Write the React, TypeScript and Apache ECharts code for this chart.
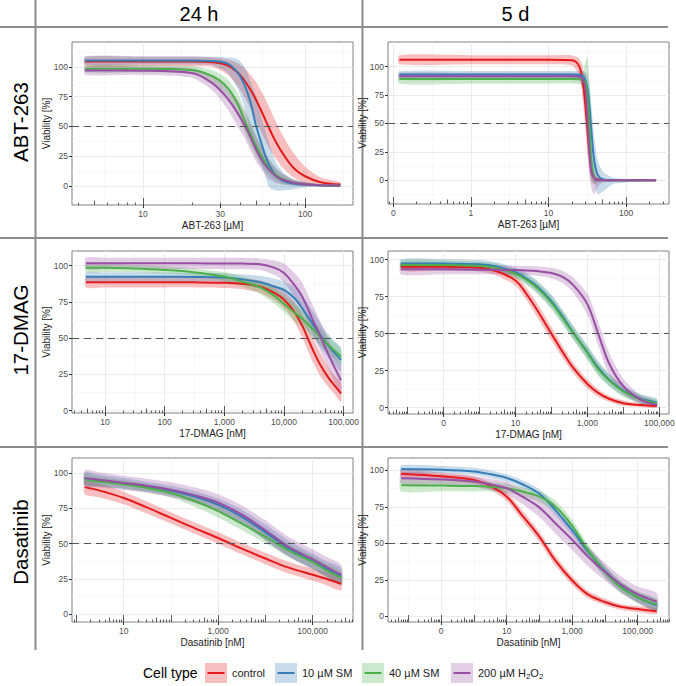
import React, { useEffect, useRef } from "react";
import * as echarts from "echarts";

const FONT = "'Liberation Sans', Arial, Helvetica, sans-serif";

const cellTypes = ["control", "10 µM SM", "40 µM SM", "200 µM H2O2"];
const lineColors = ["#E41A1C", "#377EB8", "#4DAF4A", "#984EA3"];
const bandColors = [
  "rgba(228,26,28,0.28)",
  "rgba(55,126,184,0.28)",
  "rgba(77,175,74,0.28)",
  "rgba(152,78,163,0.28)",
];
const timepoints = ["24 h", "5 d"];
const drugs = ["ABT-263", "17-DMAG", "Dasatinib"];
const yTicks = [0, 25, 50, 75, 100];

// ---------- ABT-263, 24 h (µM) ----------
const abt24Conc = [4.4, 10, 20, 27, 33, 38, 42, 46, 50, 55, 60, 66, 73, 85, 100, 125, 165];
const abt24Control = [104.5, 104.5, 104.5, 104, 101.5, 96, 89, 81, 72, 60, 48.5, 37, 27, 15, 8, 3, 1];
const abt24ControlHi = [108.5, 108.5, 108.5, 108, 106.5, 103.5, 99.6, 93.5, 87, 77, 66.5, 54, 42, 27.5, 16, 7, 3];
const abt24ControlLo = [100.5, 100.5, 100.5, 100, 94, 84.6, 75.5, 65, 54.3, 42, 32, 23, 15, 7, 2, 0, -1];
const abt24Sm10 = [105.5, 105.5, 105.5, 105, 103, 96, 86, 70.5, 50, 31.5, 17.5, 9, 4.2, 1.8, 0.8, 0.3, 0.1];
const abt24Sm10Hi = [109, 109, 109, 108.5, 108, 107, 101, 88, 75, 53, 36, 20, 11.6, 5, 3, 1.5, 0.8];
const abt24Sm10Lo = [102, 102, 102, 101.5, 95.5, 83, 67.5, 45.5, 29, 14, -1, -4, -4, -3, -1.5, -0.5, -0.3];
const abt24Sm40 = [98.5, 98.5, 97.5, 92, 83, 70, 56, 44, 33, 22.7, 14.5, 9, 5.5, 2.8, 1.3, 0.5, 0.1];
const abt24Sm40Hi = [101.5, 101.5, 100.8, 97, 90, 79, 66, 54, 42, 31, 22, 14.5, 9.5, 5, 2.8, 1.2, 0.5];
const abt24Sm40Lo = [95.5, 95.5, 94, 87, 76, 61, 46, 34, 24, 15, 9, 4, 1.5, 0.3, -0.3, -0.3, -0.3];
const abt24H2o2 = [97, 96.8, 95, 86, 74, 62, 52, 41, 30, 20, 13.5, 8, 5, 2.5, 1.2, 0.5, 0.2];
const abt24H2o2Hi = [100.5, 100.3, 99, 93, 83, 73, 63, 52, 41, 30, 22, 15, 10, 5.5, 3, 1.5, 0.8];
const abt24H2o2Lo = [93.5, 93.3, 91, 80, 65, 51, 41, 30, 20, 12, 6, 2.5, 1, 0, -0.5, -0.5, -0.3];
const abt24TickValues = [10, 30, 100];
const abt24TickLabels = ["10", "30", "100"];

// ---------- ABT-263, 5 d (µM) ----------
const abt5Conc = [0.12, 1, 10, 20, 25, 28, 30, 32, 34, 36, 39, 43, 50, 70, 244];
const abt5Control = [106, 106, 106, 105.5, 100, 84, 65, 42, 22, 8, 2, 0.8, 0.3, 0, 0];
const abt5ControlHi = [110, 110, 110, 110, 107, 98, 84, 64, 42, 22, 8, 3, 1.5, 0.5, 0.3];
const abt5ControlLo = [102, 102, 102, 101, 92, 68, 45, 22, 6, 0, -3, -2, -1, -0.5, -0.3];
const abt5Sm10 = [93, 93, 93, 93, 92.5, 91, 88, 80, 64, 41, 17, 5, 1, 0, 0];
const abt5Sm10Hi = [96, 96, 96, 96, 96, 96, 95, 93, 84, 64, 38, 18, 8, 2, 0.5];
const abt5Sm10Lo = [90, 90, 90, 90, 89, 86, 80, 65, 42, 18, -2, -12, -10, -3, -0.5];
const abt5Sm40 = [89, 89, 89, 89, 88.8, 88, 86, 74, 45, 15, 2, 0.3, 0, 0, 0];
const abt5Sm40Hi = [93, 93, 93, 93, 93, 95, 105, 108, 80, 40, 10, 2, 0.5, 0.2, 0.2];
const abt5Sm40Lo = [85, 85, 85, 85, 84.5, 80, 66, 40, 12, -2, -3, -1, -0.3, -0.2, -0.2];
const abt5H2o2 = [91.5, 91.5, 91.5, 91.5, 91, 88, 80, 52, 22, 7, 1.5, 0.3, 0, 0, 0];
const abt5H2o2Hi = [94.5, 94.5, 94.5, 94.5, 94.5, 94, 93, 78, 48, 22, 6, 2, 0.5, 0.2, 0.2];
const abt5H2o2Lo = [88.5, 88.5, 88.5, 88.5, 87.5, 80, 62, 28, 2, -8, -12, -6, -2, -0.5, -0.2];
const abt5TickValues = [0.1, 1, 10, 100];
const abt5TickLabels = ["0", "1", "10", "100"];

// ---------- 17-DMAG, 24 h (nM) ----------
const dmag24Conc = [4.8, 10, 30, 100, 300, 1000, 2000, 4000, 7000, 10000, 15000, 20000, 30000, 40000, 55000, 70000, 90000];
const dmag24Control = [88.6, 88.6, 88.6, 88.6, 88.5, 88.2, 87.5, 85.5, 81, 76.5, 68, 59, 42.5, 32, 23, 17.5, 12];
const dmag24ControlHi = [92, 92, 92, 92, 92, 91.8, 91.3, 89.8, 86, 82, 75, 67, 51, 40.5, 30, 24, 19];
const dmag24ControlLo = [85, 85, 85, 85, 85, 84.6, 83.7, 81.2, 76, 71, 61, 51, 34, 24, 16.5, 11.5, 6];
const dmag24Sm10 = [92.4, 92.4, 92.4, 92.3, 92.2, 91.8, 90.5, 88.5, 85.5, 83.3, 77.5, 70.8, 60, 52.5, 45, 40, 35];
const dmag24Sm10Hi = [95.4, 95.4, 95.4, 95.3, 95.2, 94.8, 94, 93, 91, 89, 85, 79.5, 69, 61, 53, 48, 43];
const dmag24Sm10Lo = [89.4, 89.4, 89.4, 89.3, 89.2, 88.8, 87, 84, 80, 77.5, 70, 62, 51, 44, 37, 32, 27];
const dmag24Sm40 = [98.6, 98.5, 98, 97, 95.5, 92.5, 89, 85, 79, 73.5, 67.5, 63.5, 56.5, 51.2, 45.5, 41.5, 37.4];
const dmag24Sm40Hi = [101.5, 101.3, 100.6, 99.5, 98, 95.5, 92.5, 89, 84, 79, 73.5, 69.5, 62, 57, 51, 47, 43];
const dmag24Sm40Lo = [95.7, 95.7, 95.4, 94.5, 93, 89.5, 85.5, 80.5, 73.5, 68, 61.5, 57.5, 51, 45.5, 40, 36, 31.8];
const dmag24H2o2 = [101.6, 101.6, 101.6, 101.6, 101.6, 101.5, 101.4, 101, 98.5, 95, 86.5, 79, 63, 52, 39, 30, 21];
const dmag24H2o2Hi = [105.5, 105.5, 105.5, 105.5, 105.5, 105.4, 105.3, 105, 103.5, 101.5, 95, 88.5, 73, 62, 49, 40, 31];
const dmag24H2o2Lo = [97.7, 97.7, 97.7, 97.7, 97.7, 97.6, 97.5, 97, 93.5, 88.5, 78, 69.5, 53, 42, 29, 20, 11];
const dmag24TickValues = [10, 100, 1000, 10000, 100000];
const dmag24TickLabels = ["10", "100", "1,000", "10,000", "100,000"];

// ---------- 17-DMAG, 5 d (nM) ----------
const dmag5Conc = [0.0066, 0.1, 1, 3, 10, 20, 40, 100, 200, 400, 1000, 2000, 4000, 10000, 30000, 85000];
const dmag5Control = [95.3, 95.2, 94.6, 92.2, 86, 77, 66, 50, 38, 27, 16, 10, 6, 3, 1.8, 1.2];
const dmag5ControlHi = [98, 97.8, 97.2, 95, 89.5, 81, 70.5, 54.5, 42, 30.5, 19, 12.5, 8, 4.8, 3.2, 2.6];
const dmag5ControlLo = [92.6, 92.6, 92, 89.4, 82.5, 73, 61.5, 45.5, 34, 23.5, 13, 7.5, 4, 1.2, 0.4, -0.2];
const dmag5Sm10 = [97.5, 97.4, 97, 95.5, 91.5, 87.5, 82, 72, 62, 51, 37.5, 27, 19, 11.5, 6, 3.5];
const dmag5Sm10Hi = [100.5, 100.4, 99.8, 98.3, 94.5, 91, 86, 76.5, 66.5, 55.5, 42, 31.5, 23, 15, 9, 6];
const dmag5Sm10Lo = [94.5, 94.4, 94.2, 92.7, 88.5, 84, 78, 67.5, 57.5, 46.5, 33, 22.5, 15, 8, 3, 1];
const dmag5Sm40 = [96.5, 96.4, 95.8, 94.5, 90.5, 86.5, 81, 71, 61, 50.5, 37, 26, 18.5, 11, 5.5, 3];
const dmag5Sm40Hi = [99.5, 99.3, 98.6, 97.3, 93.5, 90, 85, 75.5, 65.5, 55, 41.5, 30.5, 22.5, 14.5, 8.2, 5.3];
const dmag5Sm40Lo = [93.5, 93.5, 93, 91.7, 87.5, 83, 77, 66.5, 56.5, 46, 32.5, 21.5, 14.5, 7.5, 2.8, 0.7];
const dmag5H2o2 = [93.5, 93.5, 93.3, 93.2, 93, 92.8, 92.3, 91, 88.5, 83, 70, 50, 30, 14.5, 5.5, 2];
const dmag5H2o2Hi = [97, 96.8, 96.5, 96.3, 96, 95.8, 95.5, 94.5, 92.5, 88, 77, 58, 37.5, 19.5, 8.5, 3.8];
const dmag5H2o2Lo = [90, 90.2, 90.1, 90.1, 90, 89.8, 89.1, 87.5, 84.5, 78, 63, 42, 22.5, 9.5, 2.5, 0.2];
const dmag5TickValues = [0.1, 10, 1000, 100000];
const dmag5TickLabels = ["0", "10", "1,000", "100,000"];

// ---------- Dasatinib, 24 h (nM) ----------
const das24Conc = [1.5, 3, 10, 30, 100, 300, 1000, 3000, 10000, 30000, 100000, 200000, 400000];
const das24Control = [90, 87.7, 82.3, 75.8, 68.2, 61.3, 54, 46.8, 39.5, 33.2, 28, 25, 21.7];
const das24ControlHi = [95, 92.5, 86.8, 80, 72.2, 65.3, 58, 50.8, 43.5, 37.3, 32.3, 29.5, 26.5];
const das24ControlLo = [85, 82.8, 77.8, 71.5, 64.2, 57.3, 50, 42.8, 35.5, 29, 23.7, 20.5, 17];
const das24Sm10 = [96, 94.8, 92.7, 90.5, 87.5, 83.5, 77.5, 69.5, 58, 47, 37.5, 32, 27];
const das24Sm10Hi = [100.5, 99, 96.5, 94, 91, 87.5, 82, 74.5, 63.5, 52.5, 43, 37.5, 33];
const das24Sm10Lo = [91.5, 90.6, 88.9, 87, 84, 79.5, 73, 64.5, 52.5, 41.5, 32, 26.5, 21];
const das24Sm40 = [95.5, 94, 92, 89.5, 85.8, 80.5, 73, 64.5, 55, 45.5, 37, 31, 26];
const das24Sm40Hi = [99.5, 97.5, 95, 92.5, 89, 84.5, 77.5, 69, 59.5, 50, 41.5, 35.5, 31];
const das24Sm40Lo = [91.5, 90.5, 89, 86.5, 82.6, 76.5, 68.5, 60, 50.5, 41, 32.5, 26.5, 21];
const das24H2o2 = [96.5, 95.2, 93, 91, 88.2, 84.5, 79, 71, 59.5, 48, 39, 33.5, 28];
const das24H2o2Hi = [102, 100.5, 98, 96, 93.5, 90, 85, 77.5, 66.5, 55, 46, 40.5, 35];
const das24H2o2Lo = [91, 89.9, 88, 86, 83, 79, 73, 64.5, 52.5, 41, 32, 26.5, 21];
const das24TickValues = [10, 1000, 100000];
const das24TickLabels = ["10", "1,000", "100,000"];

// ---------- Dasatinib, 5 d (nM) ----------
const das5Conc = [0.006, 0.1, 1, 3, 10, 30, 100, 300, 1000, 3000, 10000, 30000, 100000, 380000];
const das5Control = [97.7, 96, 93.5, 89.5, 82, 69, 54.5, 38.5, 24.5, 15, 9.8, 6.5, 5, 3.4];
const das5ControlHi = [100.5, 98.5, 96, 92, 85, 72.5, 58, 42, 27.5, 17.5, 12, 8.5, 7, 5.5];
const das5ControlLo = [95, 93.5, 91, 87, 79, 65.5, 51, 35, 21.5, 12.5, 7.6, 4.5, 3, 1.5];
const das5Sm10 = [101, 100.5, 99.3, 97.5, 94.8, 90.5, 84, 73, 59, 44.5, 31, 20.5, 13, 7.5];
const das5Sm10Hi = [103.5, 103, 101.8, 100, 97.3, 93.3, 87, 76.5, 62.5, 48, 34.5, 24, 16.5, 11];
const das5Sm10Lo = [98.5, 98, 96.8, 95, 92.3, 87.7, 81, 69.5, 55.5, 41, 27.5, 17, 9.5, 4];
const das5Sm40 = [89.8, 89.6, 89.3, 88.8, 87.8, 85.5, 82, 75.5, 62, 45.5, 30.5, 20, 13, 8];
const das5Sm40Hi = [94, 93.5, 93, 92, 90.8, 88.5, 85.5, 79.5, 66, 49.5, 34.5, 24, 17, 12];
const das5Sm40Lo = [85.6, 85.7, 85.6, 85.6, 84.8, 82.5, 78.5, 71.5, 58, 41.5, 26.5, 16, 9, 4];
const das5H2o2 = [94.7, 93.8, 92.4, 90.5, 87.8, 82, 74.5, 64, 52.5, 41, 30.5, 22, 15, 10];
const das5H2o2Hi = [98.5, 97.5, 96, 94.5, 92, 87, 81, 71, 59.5, 47.5, 36.5, 27.5, 20.5, 16];
const das5H2o2Lo = [91, 90.1, 88.8, 86.5, 83.6, 77, 68, 57, 45.5, 34.5, 24.5, 16.5, 9.5, 4];
const das5TickValues = [0.1, 10, 1000, 100000];
const das5TickLabels = ["0", "10", "1,000", "100,000"];

// ---------- panel layout ----------
const panels = [
  {
    conc: abt24Conc,
    mid: [abt24Control, abt24Sm10, abt24Sm40, abt24H2o2],
    lo: [abt24ControlLo, abt24Sm10Lo, abt24Sm40Lo, abt24H2o2Lo],
    hi: [abt24ControlHi, abt24Sm10Hi, abt24Sm40Hi, abt24H2o2Hi],
    ticks: abt24TickValues, tickLabels: abt24TickLabels, xName: "ABT-263 [µM]",
    xr: [0.562, 2.296], yr: [-16.2, 121],
    box: { left: 72, top: 42, width: 281, height: 163 },
  },
  {
    conc: abt5Conc,
    mid: [abt5Control, abt5Sm10, abt5Sm40, abt5H2o2],
    lo: [abt5ControlLo, abt5Sm10Lo, abt5Sm40Lo, abt5H2o2Lo],
    hi: [abt5ControlHi, abt5Sm10Hi, abt5Sm40Hi, abt5H2o2Hi],
    ticks: abt5TickValues, tickLabels: abt5TickLabels, xName: "ABT-263 [µM]",
    xr: [-1.068, 2.554], yr: [-20.8, 121.6],
    box: { left: 388, top: 42, width: 281, height: 162 },
  },
  {
    conc: dmag24Conc,
    mid: [dmag24Control, dmag24Sm10, dmag24Sm40, dmag24H2o2],
    lo: [dmag24ControlLo, dmag24Sm10Lo, dmag24Sm40Lo, dmag24H2o2Lo],
    hi: [dmag24ControlHi, dmag24Sm10Hi, dmag24Sm40Hi, dmag24H2o2Hi],
    ticks: dmag24TickValues, tickLabels: dmag24TickLabels, xName: "17-DMAG [nM]",
    xr: [0.447, 5.156], yr: [-1.6, 110.1],
    box: { left: 72, top: 251, width: 281, height: 162 },
  },
  {
    conc: dmag5Conc,
    mid: [dmag5Control, dmag5Sm10, dmag5Sm40, dmag5H2o2],
    lo: [dmag5ControlLo, dmag5Sm10Lo, dmag5Sm40Lo, dmag5H2o2Lo],
    hi: [dmag5ControlHi, dmag5Sm10Hi, dmag5Sm40Hi, dmag5H2o2Hi],
    ticks: dmag5TickValues, tickLabels: dmag5TickLabels, xName: "17-DMAG [nM]",
    xr: [-2.544, 5.27], yr: [-4.3, 105.9],
    box: { left: 388, top: 251, width: 281, height: 163 },
  },
  {
    conc: das24Conc,
    mid: [das24Control, das24Sm10, das24Sm40, das24H2o2],
    lo: [das24ControlLo, das24Sm10Lo, das24Sm40Lo, das24H2o2Lo],
    hi: [das24ControlHi, das24Sm10Hi, das24Sm40Hi, das24H2o2Hi],
    ticks: das24TickValues, tickLabels: das24TickLabels, xName: "Dasatinib [nM]",
    xr: [-0.095, 5.854], yr: [-5.4, 110.6],
    box: { left: 72, top: 458, width: 281, height: 164 },
  },
  {
    conc: das5Conc,
    mid: [das5Control, das5Sm10, das5Sm40, das5H2o2],
    lo: [das5ControlLo, das5Sm10Lo, das5Sm40Lo, das5H2o2Lo],
    hi: [das5ControlHi, das5Sm10Hi, das5Sm40Hi, das5H2o2Hi],
    ticks: das5TickValues, tickLabels: das5TickLabels, xName: "Dasatinib [nM]",
    xr: [-2.625, 5.955], yr: [-3.9, 108.5],
    box: { left: 388, top: 458, width: 281, height: 164 },
  },
];

function logTicks(min: number, max: number, kind: string): number[] {
  const out: number[] = [];
  for (let d = Math.floor(min); d <= Math.ceil(max); d++) {
    for (let k = 1; k <= 9; k++) {
      const v = d + Math.log10(k);
      if (v < min || v > max) continue;
      const isLong = k === 1;
      const isMid = k === 5;
      if ((kind === "long" && isLong) || (kind === "mid" && isMid) || (kind === "short" && !isLong && !isMid)) out.push(v);
    }
  }
  return out;
}

function minorBreaks(majors: number[], min: number, max: number): number[] {
  const b = majors.slice();
  const bd = b[1] - b[0];
  if (min < b[0]) b.unshift(b[0] - bd);
  if (max > b[b.length - 1]) b.push(b[b.length - 1] + bd);
  const out: number[] = [];
  for (let i = 0; i < b.length - 1; i++) {
    const m = (b[i] + b[i + 1]) / 2;
    if (m > min && m < max) out.push(m);
  }
  return out;
}

function buildOption() {
  const grid: any[] = [];
  const xAxis: any[] = [];
  const yAxis: any[] = [];
  const series: any[] = [];

  panels.forEach((p, pi) => {
    grid.push({
      ...p.box,
      show: true,
      backgroundColor: "#ffffff",
      borderColor: "#808080",
      borderWidth: 1,
      containLabel: false,
      outerBoundsMode: "none",
    });
    const majors = p.ticks.map((t) => Math.log10(t));
    const xb = xAxis.length;
    const common = {
      type: "value",
      gridIndex: pi,
      min: p.xr[0],
      max: p.xr[1],
      position: "bottom",
      offset: 0,
      axisLine: { show: false, onZero: false },
    };
    xAxis.push({
      ...common,
      name: p.xName,
      nameLocation: "middle",
      nameGap: 15,
      nameMoveOverlap: false,
      nameTextStyle: { fontSize: 10, color: "#1a1a1a", fontFamily: FONT },
      axisTick: { show: true, customValues: majors, length: 3, lineStyle: { color: "#333333", width: 1 } },
      axisLabel: {
        customValues: majors,
        formatter: (v: number) => {
          const i = majors.findIndex((m) => Math.abs(m - v) < 1e-6);
          return i >= 0 ? p.tickLabels[i] : "";
        },
        fontSize: 8.5,
        color: "#4D4D4D",
        margin: 4,
        fontFamily: FONT,
      },
      splitLine: { show: true, lineStyle: { color: "#EBEBEB", width: 1 } },
    });
    xAxis.push({
      ...common,
      axisTick: { show: false, customValues: minorBreaks(majors, p.xr[0], p.xr[1]) },
      axisLabel: { show: false },
      splitLine: { show: true, lineStyle: { color: "#F3F3F3", width: 0.6 } },
    });
    const tickKinds: [string, number][] = [["long", 7], ["mid", 4.5], ["short", 2.5]];
    tickKinds.forEach(([kind, len]) => {
      xAxis.push({
        ...common,
        axisTick: {
          show: true,
          inside: true,
          length: len,
          customValues: logTicks(p.xr[0], p.xr[1], kind),
          lineStyle: { color: "#333333", width: 0.8 },
        },
        axisLabel: { show: false },
        splitLine: { show: false },
      });
    });

    const yb = yAxis.length;
    yAxis.push({
      type: "value",
      gridIndex: pi,
      min: p.yr[0],
      max: p.yr[1],
      position: "left",
      offset: 0,
      axisLine: { show: false, onZero: false },
      axisTick: { show: true, customValues: yTicks, length: 3, lineStyle: { color: "#333333", width: 1 } },
      axisLabel: { customValues: yTicks, fontSize: 8.5, color: "#4D4D4D", margin: 4, fontFamily: FONT },
      splitLine: { show: true, lineStyle: { color: "#EBEBEB", width: 1 } },
      name: "Viability [%]",
      nameLocation: "middle",
      nameGap: 21,
      nameMoveOverlap: false,
      nameTextStyle: { fontSize: 10, color: "#1a1a1a", fontFamily: FONT },
    });
    yAxis.push({
      type: "value",
      gridIndex: pi,
      min: p.yr[0],
      max: p.yr[1],
      position: "left",
      offset: 0,
      axisLine: { show: false, onZero: false },
      axisTick: { show: false, customValues: minorBreaks(yTicks, p.yr[0], p.yr[1]) },
      axisLabel: { show: false },
      splitLine: { show: true, lineStyle: { color: "#F3F3F3", width: 0.6 } },
    });

    // confidence bands
    p.mid.forEach((_, ci) => {
      const lo = p.lo[ci];
      const hi = p.hi[ci];
      series.push({
        type: "custom",
        name: cellTypes[ci] + " band",
        xAxisIndex: xb,
        yAxisIndex: yb,
        silent: true,
        clip: true,
        z: 1,
        data: p.conc.map((c, i) => [Math.log10(c), lo[i], hi[i]]),
        encode: { x: 0, y: [1, 2] },
        renderItem: (params: any, api: any) => {
          if (params.dataIndex !== 0) return null;
          const upper = p.conc.map((c, i) => api.coord([Math.log10(c), hi[i]]));
          const lower = p.conc.map((c, i) => api.coord([Math.log10(c), lo[i]])).reverse();
          return {
            type: "polygon",
            shape: { points: upper.concat(lower), smooth: 0.25 },
            style: { fill: bandColors[ci], stroke: "none" },
          };
        },
      });
    });

    // fitted curves
    p.mid.forEach((m, ci) => {
      const s: any = {
        type: "line",
        name: cellTypes[ci],
        xAxisIndex: xb,
        yAxisIndex: yb,
        data: p.conc.map((c, i) => [Math.log10(c), m[i]]),
        smooth: 0.35,
        symbol: "none",
        silent: true,
        z: 3,
        lineStyle: { color: lineColors[ci], width: 2 },
        itemStyle: { color: lineColors[ci] },
      };
      if (ci === 0) {
        s.markLine = {
          silent: true,
          symbol: ["none", "none"],
          label: { show: false },
          lineStyle: { color: "#555555", type: [7, 5], width: 1 },
          data: [{ yAxis: 50 }],
        };
      }
      series.push(s);
    });
  });

  const legendLefts = [205, 275, 362, 451];
  const legendText = {
    fontSize: 11,
    color: "#1a1a1a",
    fontFamily: FONT,
    rich: { sub: { fontSize: 8, padding: [6, 0, 0, 0], fontFamily: FONT, color: "#1a1a1a" } },
  };
  const legend: any[] = [];
  cellTypes.forEach((name, i) => {
    legend.push({
      data: [name],
      left: legendLefts[i],
      top: 663,
      padding: 0,
      itemWidth: 22,
      itemHeight: 20,
      icon: "rect",
      selectedMode: false,
      itemStyle: { color: bandColors[i], borderWidth: 0 },
      textStyle: legendText,
      formatter: (n: string) => (n === "200 µM H2O2" ? "200 µM H{sub|2}O{sub|2}" : n),
    });
    legend.push({
      data: [name],
      left: legendLefts[i],
      top: 663,
      padding: 0,
      itemWidth: 22,
      itemHeight: 20,
      icon: "path://M0,0 M22,20 M2.5,9 L19.5,9 L19.5,11 L2.5,11 Z",
      selectedMode: false,
      itemStyle: { color: lineColors[i], borderWidth: 0 },
      textStyle: { fontSize: 11, color: "#1a1a1a", fontFamily: FONT },
      formatter: () => "",
    });
  });

  const stripColor = "#8C8C8C";
  const hLine = (y: number) => ({
    type: "line",
    shape: { x1: 0, y1: y, x2: 668, y2: y },
    style: { stroke: stripColor, lineWidth: 2 },
    silent: true,
  });
  const vLine = (x: number) => ({
    type: "line",
    shape: { x1: x, y1: 0, x2: x, y2: 650 },
    style: { stroke: stripColor, lineWidth: 2 },
    silent: true,
  });
  const txt = (text: string, x: number, y: number, size: number, rot = 0) => ({
    type: "text",
    x,
    y,
    rotation: rot,
    silent: true,
    style: {
      text,
      fontSize: size,
      fontFamily: FONT,
      fill: "#000000",
      align: "center",
      verticalAlign: "middle",
      textAlign: "center",
      textVerticalAlign: "middle",
    },
  });

  const graphic: any[] = [
    hLine(27),
    hLine(238),
    hLine(447),
    vLine(35.5),
    vLine(362.5),
    txt(timepoints[0], 199, 14, 20),
    txt(timepoints[1], 515.5, 14, 20),
    txt(drugs[0], 20, 122, 20.5, Math.PI / 2),
    txt(drugs[1], 20, 330, 20.5, Math.PI / 2),
    txt(drugs[2], 20, 542, 20.5, Math.PI / 2),
    {
      type: "text",
      x: 143,
      y: 673,
      silent: true,
      style: {
        text: "Cell type",
        fontSize: 14,
        fontFamily: FONT,
        fill: "#000000",
        align: "left",
        verticalAlign: "middle",
        textAlign: "left",
        textVerticalAlign: "middle",
      },
    },
  ];

  return {
    animation: false,
    backgroundColor: "#ffffff",
    textStyle: { fontFamily: FONT },
    grid,
    xAxis,
    yAxis,
    series,
    legend,
    graphic,
  };
}

export default function App() {
  const ref = useRef<HTMLDivElement>(null);
  useEffect(() => {
    if (!ref.current) return;
    const chart = echarts.init(ref.current, null, { renderer: "svg" });
    chart.setOption(buildOption() as any);
    return () => {
      chart.dispose();
    };
  }, []);
  return (
    <div
      ref={ref}
      style={{ position: "fixed", left: 0, top: 0, width: 676, height: 686, background: "#ffffff" }}
    />
  );
}
